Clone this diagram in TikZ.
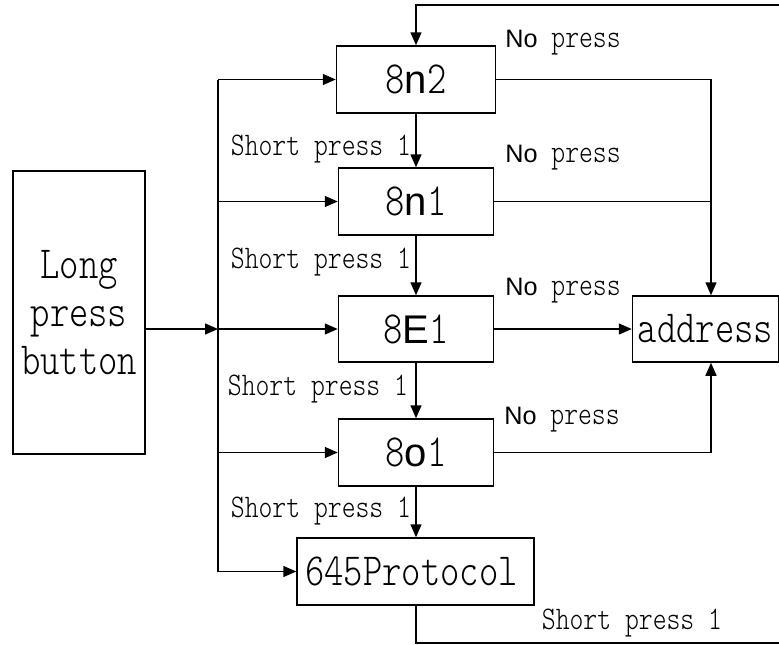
\documentclass[tikz,border=0pt]{standalone}
\usepackage{fontspec}
\newfontfamily\labf[FakeStretch=0.8]{lmmonolt10-regular.otf}
\newfontfamily\sanf[Scale=0.87]{Liberation Sans}
\usetikzlibrary{arrows.meta}
\tikzset{
  box/.style={draw, line width=1.5pt, inner sep=0pt, font=\labf\fontsize{46}{48}\selectfont},
  conn/.style={line width=1.5pt},
  arr/.style={conn, -{Triangle[length=13pt,width=11pt]}},
  lab/.style={font=\labf\fontsize{33}{36}\selectfont, inner sep=0pt},
  nolab/.style={font=\labf\fontsize{33}{36}\selectfont, inner sep=0pt}
}
\newcommand{\nop}{{\fontsize{29}{30}\selectfont\sanf No} press}
\begin{document}
\begin{tikzpicture}[x=1pt,y=-1pt]
\useasboundingbox (0,0) rectangle (779,645);
\clip (0,0) rectangle (779,645);
% boxes
\node[box, minimum width=132pt, minimum height=283pt, align=center] (lpb) at (79,312.5) {Long\\press\\button};
\node[box, minimum width=159pt, minimum height=67pt] (n2) at (416,79.5) {8{\sanf n}2};
\node[box, minimum width=155pt, minimum height=67pt] (n1) at (416,201.5) {8{\sanf n}1};
\node[box, minimum width=155pt, minimum height=66pt] (e1) at (416,329) {8{\sanf E}1};
\node[box, minimum width=155pt, minimum height=67pt] (o1) at (416,452.5) {8{\sanf o}1};
\node[box, minimum width=237pt, minimum height=67pt] (pr) at (415.5,571.5) {645Protocol\hspace*{8pt}};
\node[box, minimum width=146pt, minimum height=66pt] (addr) at (705.5,329) {address};
% helper coordinates
\coordinate (bt) at (218,79.5);
\coordinate (bb) at (218,571.5);
\coordinate (ra) at (711,0);
\coordinate (lb) at (416,643);
\coordinate (tr) at (795,5);
% bus
\draw[conn] (bt) -- (bb);
\draw[arr] (lpb.east |- e1.west) -- (e1.west -| bt);
\draw[arr] (bt) -- (n2.west);
\draw[arr] (n1.west -| bt) -- (n1.west);
\draw[arr] (e1.west -| bt) -- (e1.west);
\draw[arr] (o1.west -| bt) -- (o1.west);
\draw[arr] (bb) -- (pr.west);
% chain
\draw[arr] (n2.south) -- (n1.north);
\draw[arr] (n1.south) -- (e1.north);
\draw[arr] (e1.south) -- (o1.north);
\draw[arr] (o1.south) -- (o1.south |- pr.north);
% to address
\draw[arr] (n2.east) -| (ra |- addr.north);
\draw[conn] (n1.east) -- (n1.east -| ra);
\draw[arr] (e1.east) -- (addr.west);
\draw[arr] (o1.east) -| (ra |- addr.south);
% loop back
\draw[arr] (lb |- pr.south) -- (lb) -- (lb -| tr) -- (tr) -- (tr -| n2.north) -- (n2.north);
% labels
\node[nolab] (np1) at (563,43) {\nop};
\node[nolab] (np2) at (563,158) {\nop};
\node[nolab] (np3) at (563,291) {\nop};
\node[nolab] (np4) at (562,420) {\nop};
\node[lab] (sp1) at (321,149) {Short press 1};
\node[lab] (sp2) at (321,262) {Short press 1};
\node[lab] (sp3) at (318,389) {Short press 1};
\node[lab] (sp4) at (321,511) {Short press 1};
\node[lab] (sp5) at (632,623) {Short press 1};
\end{tikzpicture}
\end{document}
